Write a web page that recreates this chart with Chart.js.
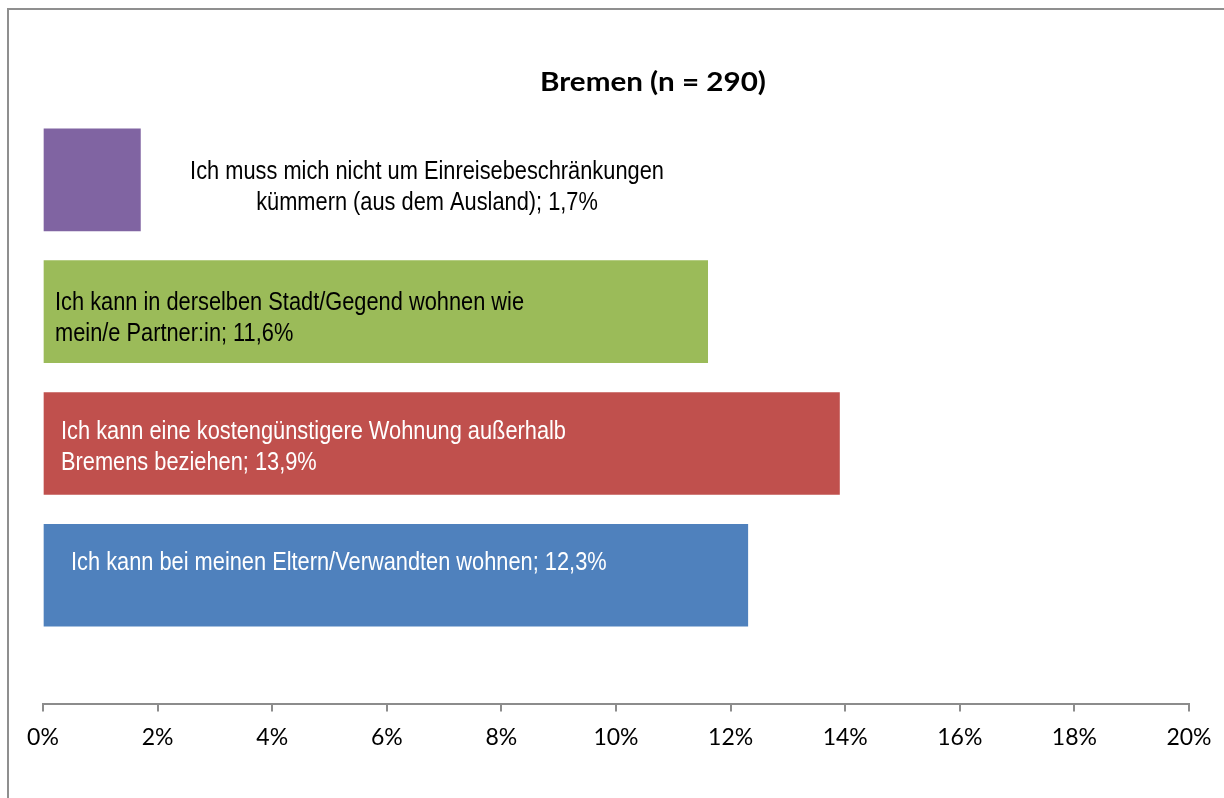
<!DOCTYPE html>
<html>
<head>
<meta charset="utf-8">
<script src="https://cdn.jsdelivr.net/npm/chart.js@4/dist/chart.umd.min.js"></script>
<style>
  html, body { margin: 0; padding: 0; background: #fff; }
  body { width: 1224px; height: 798px; position: relative; overflow: hidden; }
  #frame { position: absolute; left: 7px; top: 8px; width: 1300px; height: 900px;
           border-left: 2px solid #8f8f8f; border-top: 2px solid #8f8f8f; }
  #wrap { position: absolute; left: 0; top: 0; width: 1224px; height: 798px; }
</style>
</head>
<body>
<div id="frame"></div>
<div id="wrap"><canvas id="myChart"></canvas></div>
<script>
// von unten nach oben
const categories = [
    ['Ich kann bei meinen Eltern/Verwandten wohnen; 12,3%'],
    ['Ich kann eine kostengünstigere Wohnung außerhalb', 'Bremens beziehen; 13,9%'],
    ['Ich kann in derselben Stadt/Gegend wohnen wie', 'mein/e Partner:in; 11,6%'],
    ['Ich muss mich nicht um Einreisebeschränkungen', 'kümmern (aus dem Ausland); 1,7%']
];
const values = [12.3, 13.9, 11.6, 1.7];
const barColors = ['#4F81BD', '#C0504D', '#9BBB59', '#8064A2'];
const textColors = ['#ffffff', '#ffffff', '#000000', '#000000'];
const chartTitle = 'Bremen (n = 290)';

// Lage der Beschriftungen (wie im Original von Hand verschoben)
const labelLayout = [
    { align: 'left', dx: 27, dy: -5 },
    { align: 'left', dx: 17, dy: -4 },
    { align: 'left', dx: 11, dy: -2 },
    { align: 'center', x: 427, dy: -0.5 }
];

const barLabels = {
    id: 'barLabels',
    afterDatasetsDraw(chart) {
        const ctx = chart.ctx;
        const meta = chart.getDatasetMeta(0);
        meta.data.forEach((bar, i) => {
            const lay = labelLayout[i];
            const lines = categories[i];
            ctx.save();
            ctx.font = '25px "Liberation Sans", Arial, sans-serif';
            ctx.fillStyle = textColors[i];
            ctx.textBaseline = 'alphabetic';
            const sx = 0.872;
            lines.forEach((line, k) => {
                const w = ctx.measureText(line).width * sx;
                let x = lay.align === 'center' ? lay.x - w / 2 : bar.base + lay.dx;
                const y = bar.y + lay.dy + k * 31;
                ctx.save();
                ctx.translate(x, y);
                ctx.scale(sx, 1);
                ctx.textAlign = 'left';
                ctx.fillText(line, 0, 0);
                ctx.restore();
            });
            ctx.restore();
        });
        // Titel
        ctx.save();
        ctx.font = 'bold 26px Lato, sans-serif';
        ctx.fillStyle = '#000';
        ctx.textBaseline = 'alphabetic';
        const tw = ctx.measureText(chartTitle).width;
        const tsx = 226 / tw;
        ctx.translate(653 - 113, 91);
        ctx.scale(tsx, 1);
        ctx.fillText(chartTitle, 0, 0);
        ctx.restore();
    }
};

const ctx = document.getElementById('myChart').getContext('2d');
new Chart(ctx, {
    type: 'bar',
    data: {
        datasets: [{
            data: values.map((v, i) => ({ x: v, y: i })),
            backgroundColor: barColors,
            borderWidth: 0,
            barThickness: 102
        }]
    },
    options: {
        indexAxis: 'y',
        responsive: true,
        maintainAspectRatio: false,
        animation: false,
        layout: { padding: { left: 43, right: 35, top: 114, bottom: 35 } },
        plugins: {
            legend: { display: false },
            tooltip: { enabled: false }
        },
        scales: {
            y: {
                type: 'linear',
                min: -0.98,
                max: 3.5,
                offset: false,
                display: false
            },
            x: {
                min: 0,
                max: 20,
                ticks: {
                    stepSize: 2,
                    padding: 12,
                    color: '#000',
                    font: { family: 'Lato', size: 23 },
                    callback: v => v + '%'
                },
                grid: {
                    drawOnChartArea: false,
                    drawTicks: true,
                    tickLength: 7,
                    color: '#8c8c8c',
                    lineWidth: 2
                },
                border: { color: '#8c8c8c', width: 2 }
            }
        }
    },
    plugins: [barLabels]
});
</script>
</body>
</html>
